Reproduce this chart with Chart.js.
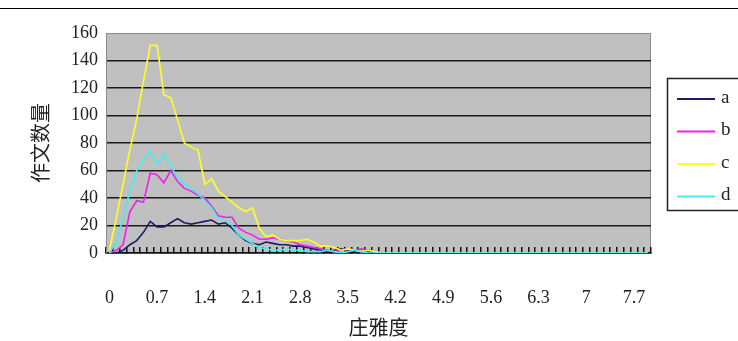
<!DOCTYPE html>
<html>
<head>
<meta charset="utf-8">
<script src="https://cdn.jsdelivr.net/npm/chart.js@4/dist/chart.umd.min.js"></script>
<style>
    html, body { margin: 0; padding: 0; background: #fff; }
    #wrap { width: 738px; height: 341px; position: relative; }
</style>
</head>
<body>
<div id="wrap"><canvas id="chart" width="738" height="341"></canvas></div>
<script>
// Categories (庄雅度 0 .. 7.9)
const categories = [
    '0', '0.1', '0.2', '0.3', '0.4', '0.5', '0.6', '0.7', '0.8', '0.9',
    '1', '1.1', '1.2', '1.3', '1.4', '1.5', '1.6', '1.7', '1.8', '1.9',
    '2', '2.1', '2.2', '2.3', '2.4', '2.5', '2.6', '2.7', '2.8', '2.9',
    '3', '3.1', '3.2', '3.3', '3.4', '3.5', '3.6', '3.7', '3.8', '3.9',
    '4', '4.1', '4.2', '4.3', '4.4', '4.5', '4.6', '4.7', '4.8', '4.9',
    '5', '5.1', '5.2', '5.3', '5.4', '5.5', '5.6', '5.7', '5.8', '5.9',
    '6', '6.1', '6.2', '6.3', '6.4', '6.5', '6.6', '6.7', '6.8', '6.9',
    '7', '7.1', '7.2', '7.3', '7.4', '7.5', '7.6', '7.7', '7.8', '7.9'
];
const xTickLabels = ['0', '0.7', '1.4', '2.1', '2.8', '3.5', '4.2', '4.9', '5.6', '6.3', '7', '7.7'];
const yTicks = [0, 20, 40, 60, 80, 100, 120, 140, 160];

const seriesNames = ['a', 'b', 'c', 'd'];
const seriesColors = ['#1c1c66', '#ee22ee', '#ffff22', '#44eeee'];

// 作文数量 per category
const valuesA = [
    0, 0, 2, 6, 9, 15, 23, 19, 19, 22, 25, 22, 21, 22, 23, 24, 21, 22, 18, 13,
    9, 7, 6, 8, 7, 6, 6, 5, 5, 4, 3, 2, 1, 2, 3, 2, 1, 0, 1, 0,
    0, 0, 0, 0, 0, 0, 0, 0, 0, 0, 0, 0, 0, 0, 0, 0, 0, 0, 0, 0,
    0, 0, 0, 0, 0, 0, 0, 0, 0, 0, 0, 0, 0, 0, 0, 0, 0, 0, 0, 0
];
const valuesB = [
    0, 2, 6, 30, 38, 37, 58, 57, 51, 60, 52, 47, 45, 42, 40, 34, 27, 26, 26, 18,
    15, 13, 10, 10, 11, 10, 9, 8, 6, 5, 4, 3, 2, 1, 2, 3, 2, 3, 2, 1,
    0, 0, 0, 0, 0, 0, 0, 0, 0, 0, 0, 0, 0, 0, 0, 0, 0, 0, 0, 0,
    0, 0, 0, 0, 0, 0, 0, 0, 0, 0, 0, 0, 0, 0, 0, 0, 0, 0, 0, 0
];
const valuesC = [
    2, 25, 50, 75, 97, 125, 151, 151, 115, 113, 97, 80, 77, 75, 50, 54, 45, 41, 37, 33,
    30, 33, 18, 12, 13, 10, 9, 9, 9, 10, 8, 5, 5, 4, 2, 3, 2, 1, 2, 1,
    0, 0, 0, 0, 0, 0, 0, 0, 0, 0, 0, 0, 0, 0, 0, 0, 0, 0, 0, 0,
    0, 0, 0, 0, 0, 0, 0, 0, 0, 0, 0, 0, 0, 0, 0, 0, 0, 0, 0, 0
];
const valuesD = [
    0, 8, 25, 45, 60, 68, 74, 65, 72, 63, 55, 50, 47, 43, 38, 33, 25, 24, 20, 13,
    10, 7, 4, 3, 2, 2, 3, 2, 2, 1, 1, 1, 2, 1, 0, 1, 2, 1, 0, 0,
    0, 0, 0, 0, 0, 0, 0, 0, 0, 0, 0, 0, 0, 0, 0, 0, 0, 0, 0, 0,
    0, 0, 0, 0, 0, 0, 0, 0, 0, 0, 0, 0, 0, 0, 0, 0, 0, 0, 0, 0
];
const allValues = [valuesA, valuesB, valuesC, valuesD];

const numFont = 'Liberation Serif';
const cjkFont = '"Noto Sans CJK SC"';

// Gray plot area + thin rule at the top of the page
const plotBackground = {
    id: 'plotBackground',
    beforeDraw(chart) {
        const { ctx, chartArea: a } = chart;
        ctx.save();
        ctx.fillStyle = '#c0c0c0';
        ctx.fillRect(a.left, a.top, a.right - a.left, a.bottom - a.top);
        ctx.strokeStyle = '#8a8a8a';
        ctx.lineWidth = 1;
        ctx.strokeRect(a.left + 0.5, a.top + 0.5, a.right - a.left - 1, a.bottom - a.top - 1);
        ctx.strokeStyle = '#000';
        ctx.beginPath();
        ctx.moveTo(0, 8.5);
        ctx.lineTo(738, 8.5);
        ctx.stroke();
        ctx.restore();
    }
};

// Boxed legend on the right, like the spreadsheet one
const boxLegend = {
    id: 'boxLegend',
    afterDraw(chart) {
        const ctx = chart.ctx;
        const left = 667, top = 78, bottom = 210;
        ctx.save();
        ctx.fillStyle = '#fff';
        ctx.fillRect(left, top, 80, bottom - top);
        ctx.strokeStyle = '#222';
        ctx.lineWidth = 1.5;
        ctx.strokeRect(left + 0.5, top + 0.5, 80, bottom - top);
        ctx.font = '19px ' + numFont;
        ctx.textBaseline = 'middle';
        chart.data.datasets.forEach((ds, i) => {
            const y = 99 + i * 32.5;
            ctx.strokeStyle = ds.borderColor;
            ctx.lineWidth = 2;
            ctx.beginPath();
            ctx.moveTo(677, y);
            ctx.lineTo(715, y);
            ctx.stroke();
            ctx.fillStyle = '#222';
            ctx.fillText(ds.label, 721, y - 1);
        });
        ctx.restore();
    }
};

function buildDatasets() {
    return seriesNames.map((name, i) => ({
        label: name,
        data: allValues[i],
        borderColor: seriesColors[i],
        borderWidth: 1.6,
        pointRadius: 0,
        tension: 0,
        fill: false,
        order: seriesNames.length - i
    }));
}

document.addEventListener('DOMContentLoaded', function() {
    const ctx = document.getElementById('chart').getContext('2d');
    new Chart(ctx, {
        type: 'line',
        data: { labels: categories, datasets: buildDatasets() },
        options: {
            responsive: false,
            animation: false,
            layout: { padding: { left: 0, top: 33, right: 87, bottom: 0 } },
            plugins: { legend: { display: false }, tooltip: { enabled: false } },
            scales: {
                x: {
                    offset: true,
                    grid: {
                        offset: true,
                        drawOnChartArea: false,
                        drawTicks: true,
                        tickLength: -6,
                        color: '#111',
                        lineWidth: 1.5
                    },
                    border: { display: true, color: '#111', width: 1.5 },
                    ticks: {
                        autoSkip: false,
                        maxRotation: 0,
                        padding: 40,
                        color: '#222',
                        font: { family: numFont, size: 18 },
                        callback: function(val) {
                            const label = this.getLabelForValue(val);
                            return xTickLabels.includes(label) ? label : '';
                        }
                    },
                    title: {
                        display: true,
                        text: '庄雅度',
                        color: '#222',
                        font: { family: cjkFont, size: 20 },
                        padding: { top: 0, bottom: 2 }
                    },
                    afterFit(scale) { scale.height = 88; }
                },
                y: {
                    min: 0,
                    max: 160,
                    afterBuildTicks(scale) { scale.ticks = yTicks.map(v => ({ value: v })); },
                    grid: {
                        drawTicks: false,
                        color: c => (c.tick && c.tick.value === 160 ? 'rgba(0,0,0,0)' : '#1a1a1a'),
                        lineWidth: 1.5
                    },
                    border: { display: true, color: '#8a8a8a', width: 1 },
                    ticks: {
                        padding: 8,
                        color: '#222',
                        font: { family: numFont, size: 18 }
                    },
                    title: {
                        display: true,
                        text: '作文数量',
                        color: '#222',
                        font: { family: cjkFont, size: 20 },
                        padding: { top: 28, bottom: 0 }
                    },
                    afterFit(scale) { scale.width = 106; }
                }
            }
        },
        plugins: [plotBackground, boxLegend]
    });
});
</script>
</body>
</html>
